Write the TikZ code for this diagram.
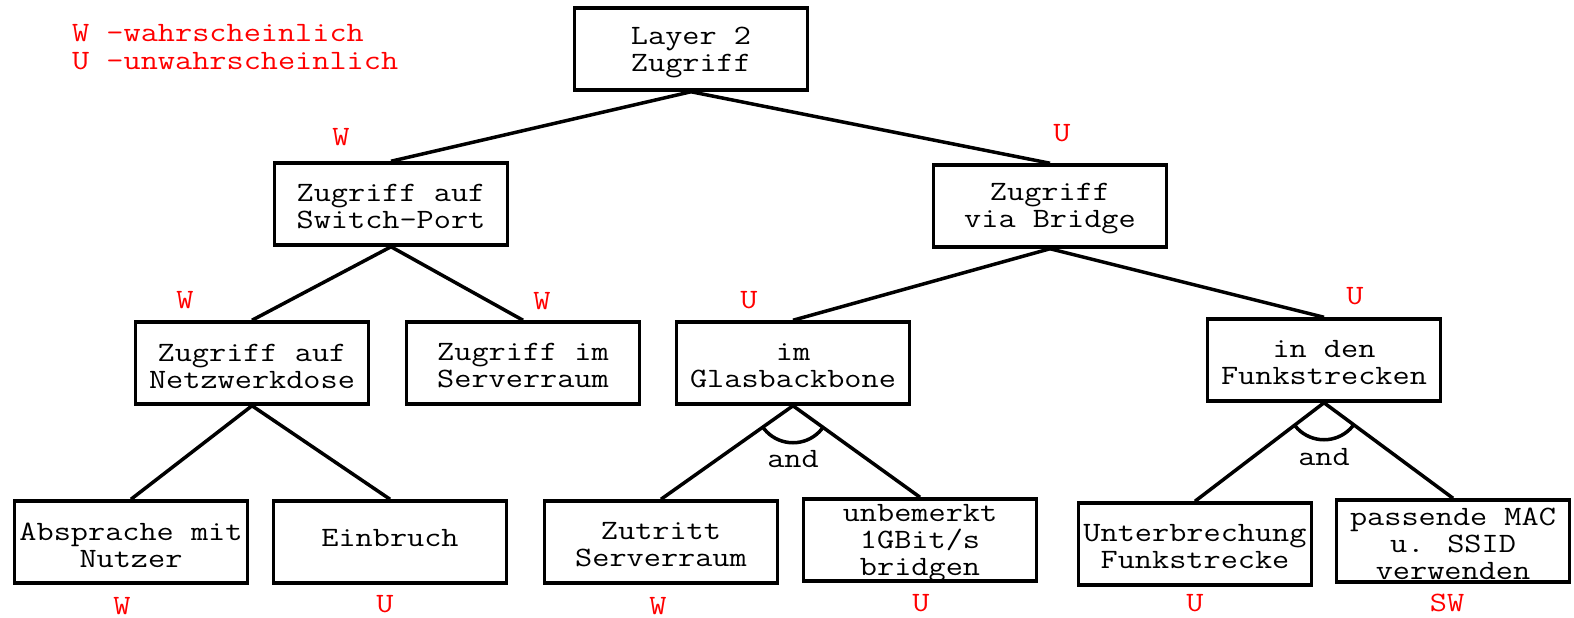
\documentclass[tikz,border=0pt]{standalone}
\usepackage{fontspec}
\newfontfamily\diafont[FakeStretch=1.19]{Latin Modern Mono}
\begin{document}
\begin{tikzpicture}[x=1pt,y=-1pt,
  every node/.style={font=\diafont\fontsize{28}{27}\selectfont},
  box/.style={draw,line width=3.5pt,rectangle,minimum width=233pt,minimum height=82pt,inner sep=0pt},
  txt/.style={align=center,inner sep=0pt,yshift=-3pt},
  rl/.style={text=red,inner sep=0pt},
  conn/.style={line width=3.5pt}]
\useasboundingbox (0,0) rectangle (1574,618);
% boxes
\node[box,label={[txt]center:{Layer 2\\Zugriff}}] (top) at (691,49) {};
\node[box,label={[txt]center:{Zugriff auf\\Switch-Port}}] (sw) at (391,204) {};
\node[box,label={[txt]center:{Zugriff\\via Bridge}}] (br) at (1050,206) {};
\node[box,label={[txt]center:{Zugriff auf\\Netzwerkdose}}] (nd) at (252,363) {};
\node[box,label={[txt]center:{Zugriff im\\Serverraum}}] (sr) at (523,363) {};
\node[box,label={[txt]center:{im\\Glasbackbone}}] (gb) at (793,363) {};
\node[box,label={[txt]center:{in den\\Funkstrecken}}] (fs) at (1324,360) {};
\node[box,label={[txt]center:{Absprache mit\\Nutzer}}] (an) at (131,542) {};
\node[box,label={[txt,yshift=7pt]center:{Einbruch}}] (eb) at (390,542) {};
\node[box,label={[txt]center:{Zutritt\\Serverraum}}] (zs) at (661,542) {};
\node[box,label={[txt]center:{unbemerkt\\1GBit/s\\bridgen}}] (ub) at (920,540) {};
\node[box,label={[txt]center:{Unterbrechung\\Funkstrecke}}] (uf) at (1195,544) {};
\node[box,label={[txt]center:{passende MAC\\u. SSID\\verwenden}}] (pm) at (1453,541) {};
% connectors
\draw[conn] (top.south) -- (sw.north);
\draw[conn] (top.south) -- (br.north);
\draw[conn] (sw.south) -- (nd.north);
\draw[conn] (sw.south) -- (sr.north);
\draw[conn] (br.south) -- (gb.north);
\draw[conn] (br.south) -- (fs.north);
\draw[conn] (nd.south) -- (an.north);
\draw[conn] (nd.south) -- (eb.north);
\draw[conn] (gb.south) -- (zs.north);
\draw[conn] (gb.south) -- (ub.north);
\draw[conn] (fs.south) -- (uf.north);
\draw[conn] (fs.south) -- (pm.north);
% and arcs
\begin{scope}
  \clip (gb.south) -- (zs.north) -- (ub.north) -- cycle;
  \draw[conn] (gb.south) circle (37pt);
\end{scope}
\begin{scope}
  \clip (fs.south) -- (uf.north) -- (pm.north) -- cycle;
  \draw[conn] (fs.south) circle (37pt);
\end{scope}
\node[inner sep=0pt] (and1) at (793,459) {and};
\node[inner sep=0pt] (and2) at (1324,457) {and};
% legend
\node[rl,anchor=west] (leg1) at (72,33) {W -wahrscheinlich};
\node[rl,anchor=west] (leg2) at (72,61) {U -unwahrscheinlich};
% ratings
\node[rl] (r1) at (341,137) {W};
\node[rl] (r2) at (1062,133) {U};
\node[rl] (r3) at (185,300) {W};
\node[rl] (r4) at (542,301) {W};
\node[rl] (r5) at (749,300) {U};
\node[rl] (r6) at (1355,296) {U};
\node[rl] (r7) at (122,606) {W};
\node[rl] (r8) at (385,604) {U};
\node[rl] (r9) at (658,606) {W};
\node[rl] (r10) at (921,603) {U};
\node[rl] (r11) at (1195,603) {U};
\node[rl] (r12) at (1447,603) {SW};
\end{tikzpicture}
\end{document}
